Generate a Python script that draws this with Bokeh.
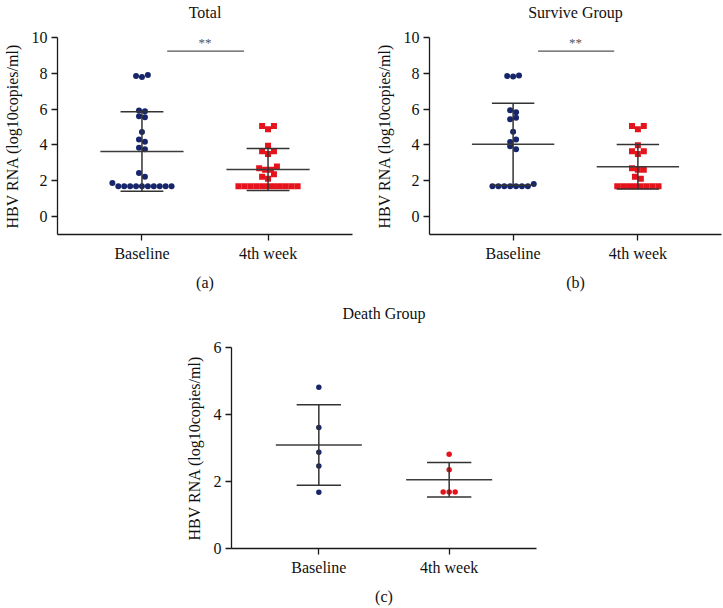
import numpy as np
from bokeh.plotting import figure
from bokeh.models import FixedTicker, Range1d, LinearAxis
from bokeh.layouts import column, row
from bokeh.core.properties import value
from bokeh.embed import file_html
from bokeh.resources import INLINE

FONT = "Liberation Serif"
NAVY = "#17266b"
RED = "#e5131b"
LINE = "#333333"
AXIS = "#1a1a1a"

categories = ["Baseline", "4th week"]
cat_pos = [1, 2]

# ---- data (log10 copies/ml) ----
total_baseline = [7.85, 7.80, 7.90, 5.93, 5.88, 5.60, 5.55, 4.72, 4.31, 4.18,
                  3.85, 3.76, 2.44, 2.22, 1.87, 1.69, 1.69, 1.69, 1.69, 1.69,
                  1.69, 1.69, 1.69, 1.69, 1.69]
total_week4 = [5.06, 4.87, 5.06, 3.96, 3.65, 3.50, 3.65, 2.70, 2.61, 2.61,
               2.80, 2.22, 2.11, 2.37, 1.70, 1.70, 1.70, 1.70, 1.70, 1.70,
               1.70, 1.70, 1.70, 1.70, 1.70]
survive_baseline = [7.85, 7.82, 7.88, 5.94, 5.83, 5.44, 5.52, 4.74, 4.17, 4.31,
                    3.93, 3.76, 1.70, 1.70, 1.70, 1.70, 1.70, 1.70, 1.70, 1.82]
survive_week4 = [5.06, 4.87, 5.06, 3.98, 3.65, 3.50, 3.65, 2.70, 2.61, 2.61,
                 2.22, 2.11, 1.70, 1.70, 1.70, 1.70, 1.70, 1.70, 1.70, 1.70]
death_baseline = [4.81, 3.61, 2.87, 2.46, 1.68]
death_week4 = [2.81, 2.35, 1.69, 1.69, 1.69]

# mean and SD per group (Baseline, 4th week)
total_mean = [3.63, 2.63]
total_sd = [2.22, 1.17]
survive_mean = [4.04, 2.78]
survive_sd = [2.29, 1.24]
death_mean = [3.09, 2.05]
death_sd = [1.20, 0.515]

sig_level = 9.24
sig_text = "**"

Y_LABEL = "HBV RNA (log10copies/ml)"


def swarm(vals, center, xs, ys, d, bin_px=4.1):
    """Prism-like scatter: points closer than bin_px vertically share a row,
    laid out symmetrically around the category centre."""
    bins = []
    for i, v in enumerate(vals):
        for b in bins:
            if abs(vals[b[0]] - v) * ys <= bin_px:
                b.append(i)
                break
        else:
            bins.append([i])
    out = [0.0] * len(vals)
    for b in bins:
        n = len(b)
        for k, idx in enumerate(b):
            out[idx] = center + (k - (n - 1) / 2.0) * d / xs
    return out


def style_text(axis):
    axis.major_label_text_font = FONT
    axis.major_label_text_font_size = "16px"
    axis.major_label_text_font_style = "normal"
    axis.major_label_text_color = "#111111"
    axis.axis_label_text_font = FONT
    axis.axis_label_text_font_size = "16px"
    axis.axis_label_text_font_style = "normal"
    axis.axis_label_text_color = "#111111"


def make_panel(title, title_standoff, letter, width, height, mb, yr, yticks, groups,
               means, sds, markers, colors, msize, sig):
    ml, mr, mt, mbot = mb
    p = figure(width=width, height=height, x_range=Range1d(0.33, 2.67),
               y_range=Range1d(*yr), output_backend="svg", toolbar_location=None,
               min_border_left=ml, min_border_right=mr, min_border_top=mt,
               min_border_bottom=mbot)
    p.outline_line_color = None
    p.grid.visible = False
    p.background_fill_color = "white"
    p.border_fill_color = "white"

    fw = width - ml - mr
    fh = height - mt - mbot
    xs = fw / (2.67 - 0.33)
    ys = fh / (yr[1] - yr[0])

    xa = p.below[0]
    ya = p.left[0]
    for axis in (xa, ya):
        axis.axis_line_color = AXIS
        axis.axis_line_width = 1.3
        axis.major_tick_line_color = AXIS
        axis.major_tick_line_width = 1.3
        axis.major_tick_in = 0
        axis.major_tick_out = 6
        axis.minor_tick_line_color = None
        style_text(axis)

    xa.ticker = FixedTicker(ticks=cat_pos)
    xa.major_label_overrides = {cat_pos[i]: categories[i] for i in range(2)}
    xa.major_label_standoff = 4
    xa.axis_label = letter
    xa.axis_label_standoff = 9
    ya.ticker = FixedTicker(ticks=yticks)
    ya.major_label_standoff = 4
    ya.axis_label = Y_LABEL
    ya.axis_label_standoff = 8

    # panel title: an invisible axis above the frame carrying the title as its label
    top = LinearAxis(ticker=FixedTicker(ticks=[]), axis_label=title)
    top.axis_line_color = None
    top.major_tick_line_color = None
    top.minor_tick_line_color = None
    top.major_tick_out = 0
    top.major_tick_in = 0
    top.major_label_standoff = 0
    top.axis_label_standoff = title_standoff
    style_text(top)
    p.add_layout(top, "above")

    for i, vals in enumerate(groups):
        xv = swarm(vals, cat_pos[i], xs, ys, 6.0)
        p.scatter(xv, vals, marker=markers[i], size=msize, fill_color=colors[i],
                  line_color=colors[i], line_width=0)

    cx = np.array(cat_pos, dtype=float)
    m = np.array(means)
    s = np.array(sds)
    p.segment(cx - 0.33, m, cx + 0.33, m, line_color="#3c3c3c", line_width=1.5)
    p.segment(cx - 0.17, m + s, cx + 0.17, m + s, line_color=LINE, line_width=1.5)
    p.segment(cx - 0.17, m - s, cx + 0.17, m - s, line_color=LINE, line_width=1.5)
    p.segment(cx, m - s, cx, m + s, line_color=LINE, line_width=1.5)

    if sig is not None:
        lvl, txt = sig
        p.segment([1.2], [lvl], [1.81], [lvl], line_color="#555555", line_width=1.3)
        p.text([1.5], [lvl], text=[txt], text_font=value(FONT), text_font_size="13px",
               text_color="#555555", text_align="center", text_baseline="bottom",
               y_offset=-1)
    return p


p_a = make_panel("Total", 17, "(a)", 372, 300, (53, 20, 36, 66), (-1, 10),
                 [0, 2, 4, 6, 8, 10], [total_baseline, total_week4],
                 total_mean, total_sd, ["circle", "square"], [NAVY, RED], 6,
                 (sig_level, sig_text))
p_b = make_panel("Survive Group", 17, "(b)", 350, 300, (52, 1, 36, 66), (-1, 10),
                 [0, 2, 4, 6, 8, 10], [survive_baseline, survive_week4],
                 survive_mean, survive_sd, ["circle", "square"], [NAVY, RED], 6,
                 (sig_level, sig_text))
p_c = make_panel("Death Group", 26, "(c)", 546, 307, (231, 10, 47, 59), (0, 6),
                 [0, 2, 4, 6], [death_baseline, death_week4],
                 death_mean, death_sd, ["circle", "circle"], [NAVY, RED], 5.5,
                 None)

layout = column(row(p_a, p_b), p_c)

open("out.html", "w").write(file_html(layout, INLINE))
